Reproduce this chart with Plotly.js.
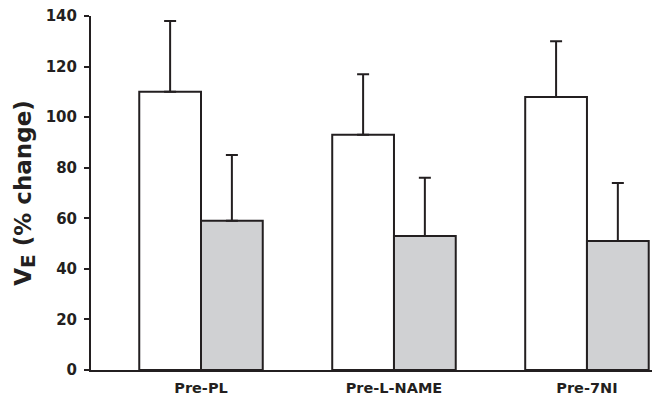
<!DOCTYPE html>
<html>
<head>
<meta charset="utf-8">
<script src="https://cdn.plot.ly/plotly-3.0.1.min.js"></script>
<style>html,body{margin:0;padding:0;background:#fff;}#chart{width:657px;height:401px;}</style>
</head>
<body>
<div id="chart"></div>
<script>
var categories = ["Pre-PL", "Pre-L-NAME", "Pre-7NI"];
var whiteValues = [110, 93, 108];
var whiteErrors = [28, 24, 22];
var grayValues = [59, 53, 51];
var grayErrors = [26, 23, 23];
var yTickValues = [0, 20, 40, 60, 80, 100, 120, 140];

var lineColor = "#231f20";
var common = {
  type: "bar",
  x: categories,
  hoverinfo: "skip"
};
var traces = [
  Object.assign({}, common, {
    y: whiteValues,
    marker: {color: "#ffffff", line: {color: lineColor, width: 2}},
    error_y: {type: "data", array: whiteErrors, symmetric: false, arrayminus: [0,0,0], color: lineColor, thickness: 2, width: 6}
  }),
  Object.assign({}, common, {
    y: grayValues,
    marker: {color: "#d0d1d3", line: {color: lineColor, width: 2}},
    error_y: {type: "data", array: grayErrors, symmetric: false, arrayminus: [0,0,0], color: lineColor, thickness: 2, width: 6}
  })
];

var layout = {
  width: 657,
  height: 401,
  margin: {l: 91, r: 5, t: 16, b: 31},
  paper_bgcolor: "#ffffff",
  plot_bgcolor: "#ffffff",
  showlegend: false,
  barmode: "group",
  bargap: 0.36,
  bargroupgap: 0,
  font: {family: "DejaVu Sans", color: "#231f20"},
  xaxis: {
    type: "category",
    range: [-0.57, 2.337],
    showline: true,
    linecolor: lineColor,
    linewidth: 2,
    ticks: "",
    showgrid: false,
    zeroline: false,
    tickfont: {family: "DejaVu Sans", size: 14.5, weight: "bold", color: "#231f20"},
    ticklabelstandoff: 4
  },
  yaxis: {
    range: [0, 140],
    tickvals: yTickValues,
    ticktext: yTickValues.map(String),
    showline: true,
    linecolor: lineColor,
    linewidth: 2,
    ticks: "outside",
    ticklen: 5,
    tickwidth: 2,
    tickcolor: lineColor,
    showgrid: false,
    zeroline: false,
    tickfont: {family: "DejaVu Sans", size: 15, weight: "bold", color: "#231f20"},
    ticklabelstandoff: 4,
    title: {
      text: "V<sub><span style=\"font-size:20px\">E</span></sub> (% change)",
      font: {family: "DejaVu Sans", size: 23, weight: "bold", color: "#231f20"},
      standoff: 8
    }
  }
};

Plotly.newPlot("chart", traces, layout, {displayModeBar: false, staticPlot: true});
</script>
</body>
</html>
